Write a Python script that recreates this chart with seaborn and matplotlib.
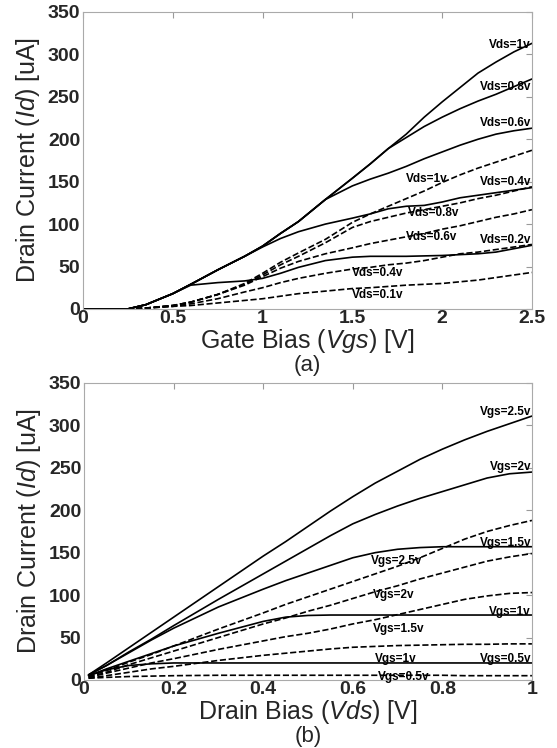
import matplotlib
matplotlib.use("Agg")
import matplotlib.pyplot as plt
import seaborn as sns

# ---- (a) Id vs Vgs, one curve per Vds ----
vgs = [0, 0.25, 0.35, 0.5, 0.6, 0.75, 0.9, 1.0, 1.1, 1.2, 1.35, 1.5,
       1.6, 1.7, 1.8, 1.9, 2.0, 2.1, 2.2, 2.3, 2.4, 2.5]

# solid curves
a_solid_1 = [0, 0, 5, 18, 29, 46, 62, 74, 89, 103, 129, 154,
             171, 189, 206, 226, 244, 261, 278, 291, 303, 313]
a_solid_08 = [0, 0, 5, 18, 29, 46, 62, 74, 89, 103, 129, 154,
              171, 189, 202, 215, 226, 236, 245, 253, 262, 271]
a_solid_06 = [0, 0, 5, 18, 29, 46, 62, 74, 89, 103, 129, 145,
              153, 160, 168, 177, 185, 193, 200, 206, 210, 213]
a_solid_04 = [0, 0, 5, 18, 29, 46, 62, 73, 83, 91, 100, 107,
              112, 118, 121, 122, 126, 131, 134, 137, 140, 143]
a_solid_02 = [0, 0, 5, 18, 28, 31, 33, 36, 42, 49, 57, 61,
              62, 62, 62, 62.5, 63, 64, 65, 67, 71, 75]

# dashed curves
a_dash_1 = [0, 0, 1, 4, 8, 17, 30, 42, 55, 66, 82, 102,
            112, 121, 130, 139, 149, 158, 166, 173, 180, 187]
a_dash_08 = [0, 0, 1, 4, 8, 17, 29, 40, 52, 62, 78, 96,
             103, 108, 113, 117, 121, 125, 130, 134, 139, 144]
a_dash_06 = [0, 0, 1, 4, 8, 17, 28, 38, 48, 56, 65, 72,
             77, 81, 85, 89, 94, 98, 103, 108, 112, 117]
a_dash_04 = [0, 0, 1, 3, 6, 12, 20, 25, 31, 36, 42, 47,
             49, 52, 54, 57, 61, 65, 67, 70, 73, 76]
a_dash_01 = [0, 0, 1, 3, 4, 7, 10, 12, 15, 18, 21, 24,
             25, 26.5, 28, 29, 30, 32, 34, 37, 40, 43]

a_solid_names = ["Vds=1v", "Vds=0.8v", "Vds=0.6v", "Vds=0.4v", "Vds=0.2v"]
a_dash_names = ["Vds=1v", "Vds=0.8v", "Vds=0.6v", "Vds=0.4v", "Vds=0.1v"]

# ---- (b) Id vs Vds, one curve per Vgs ----
vds = [0.01, 0.05, 0.1, 0.15, 0.2, 0.3, 0.4, 0.45, 0.5, 0.55, 0.6,
       0.65, 0.7, 0.75, 0.8, 0.85, 0.9, 0.95, 1.0]

b_solid_25 = [6, 20, 38, 56, 74, 110, 146, 163, 181, 199, 216,
              232, 246, 260, 272, 283, 293, 302, 311]
b_solid_2 = [6, 17, 33, 48, 64, 95, 125, 140, 155, 170, 184,
             195, 205, 214, 222, 230, 238, 243, 245]
b_solid_15 = [6, 17, 32, 47, 61, 86, 107, 117, 126, 135, 144,
              150, 154, 156, 157, 157, 157, 157, 157]
b_solid_1 = [5, 13, 22, 31, 40, 55, 69, 74, 76, 76.5, 76.5,
             76.5, 76.5, 76.5, 76.5, 76.5, 76.5, 76.5, 76.5]
b_solid_05 = [5, 12, 17, 19, 20, 20, 20, 20, 20, 20, 20,
              20, 20, 20, 20, 20, 20, 20, 20]

b_dash_25 = [4, 11, 21, 30, 40, 60, 79, 89, 98, 107, 116,
             125, 134, 144, 155, 166, 175, 182, 188]
b_dash_2 = [3, 9, 18, 26, 34, 50, 66, 73, 81, 88, 96,
            104, 111, 119, 126, 133, 140, 145, 149]
b_dash_15 = [3, 8, 14, 20, 25, 36, 46, 51, 55, 60, 66,
             71, 77, 83, 89, 95, 99, 102, 103]
b_dash_1 = [2, 5, 9, 13, 16, 23, 29, 31.5, 34, 36.5, 38.5,
            39.5, 40.5, 41, 41.5, 42, 42, 42.5, 42.5]
b_dash_05 = [2, 3, 4, 4.5, 5, 5.5, 5.5, 5.5, 5.5, 5.5, 5.5,
             5.5, 5.5, 5.5, 5.5, 5, 5, 5, 5]

b_solid_names = ["Vgs=2.5v", "Vgs=2v", "Vgs=1.5v", "Vgs=1v", "Vgs=0.5v"]
b_dash_names = ["Vgs=2.5v", "Vgs=2v", "Vgs=1.5v", "Vgs=1v", "Vgs=0.5v"]

a_xticks = [0, 0.5, 1, 1.5, 2, 2.5]
a_xticklabels = ["0", "0.5", "1", "1.5", "2", "2.5"]
b_xticks = [0, 0.2, 0.4, 0.6, 0.8, 1]
b_xticklabels = ["0", "0.2", "0.4", "0.6", "0.8", "1"]
yticks = [0, 50, 100, 150, 200, 250, 300, 350]

sns.set_theme(style="white")
plt.rcParams["font.family"] = ["Liberation Sans", "DejaVu Sans"]
plt.rcParams["mathtext.fontset"] = "custom"
plt.rcParams["mathtext.it"] = "Liberation Sans:italic"
plt.rcParams["mathtext.rm"] = "Liberation Sans"

LABEL_KW = dict(fontsize=8.5, fontweight="bold", color="black")


def draw_curves(ax, x, curves, style):
    for y in curves:
        sns.lineplot(x=x, y=y, ax=ax, color="black", linewidth=1.2,
                     linestyle=style)


def style_axes(ax, xmax, xticks, xticklabels, xlabel, tag):
    ax.set_xlim(0, xmax)
    ax.set_ylim(0, 350)
    ax.set_xticks(xticks)
    ax.set_xticklabels(xticklabels)
    ax.set_yticks(yticks)
    ax.set_yticklabels([str(t) for t in yticks])
    ax.tick_params(direction="in", length=4, width=0.8, color="#9a9a9a",
                   top=True, right=True, labelsize=14, pad=2)
    ax.tick_params(axis="x", pad=1)
    for lab in ax.get_xticklabels() + ax.get_yticklabels():
        lab.set_fontweight("bold")
    for sp in ax.spines.values():
        sp.set_color("#aaaaaa")
        sp.set_linewidth(0.8)
    ax.set_ylabel("Drain Current ($\\mathit{Id}$) [uA]", fontsize=18,
                  labelpad=4)
    ax.set_xlabel(xlabel, fontsize=18, labelpad=0)
    ax.annotate(tag, xy=(0.5, 0), xycoords="axes fraction",
                xytext=(0, -33), textcoords="offset points",
                ha="center", va="top", fontsize=16)


fig = plt.figure(figsize=(5.57, 7.48), dpi=100)
ax1 = fig.add_axes([0.149, 0.587, 0.806, 0.397])
ax2 = fig.add_axes([0.151, 0.091, 0.804, 0.397])

# panel (a)
draw_curves(ax1, vgs, [a_solid_1, a_solid_08, a_solid_06, a_solid_04,
                       a_solid_02], "-")
draw_curves(ax1, vgs, [a_dash_1, a_dash_08, a_dash_06, a_dash_04,
                       a_dash_01], "--")
a_solid_lab_y = [311, 262, 219, 150, 81]
for name, yy in zip(a_solid_names, a_solid_lab_y):
    ax1.text(2.495, yy, name, ha="right", va="center", **LABEL_KW)
a_dash_lab_xy = [(1.80, 153), (1.81, 113), (1.80, 85), (1.50, 42), (1.50, 16.5)]
for name, (xx, yy) in zip(a_dash_names, a_dash_lab_xy):
    ax1.text(xx, yy, name, ha="left", va="center", **LABEL_KW)
style_axes(ax1, 2.5, a_xticks, a_xticklabels,
           "Gate Bias ($\\mathit{Vgs}$) [V]", "(a)")

# panel (b)
draw_curves(ax2, vds, [b_solid_25, b_solid_2, b_solid_15, b_solid_1,
                       b_solid_05], "-")
draw_curves(ax2, vds, [b_dash_25, b_dash_2, b_dash_15, b_dash_1,
                       b_dash_05], "--")
b_solid_lab_y = [316, 251, 161, 80, 25]
for name, yy in zip(b_solid_names, b_solid_lab_y):
    ax2.text(0.998, yy, name, ha="right", va="center", **LABEL_KW)
b_dash_lab_xy = [(0.64, 140), (0.645, 100), (0.645, 60), (0.65, 25), (0.655, 3.5)]
for name, (xx, yy) in zip(b_dash_names, b_dash_lab_xy):
    ax2.text(xx, yy, name, ha="left", va="center", **LABEL_KW)
style_axes(ax2, 1.0, b_xticks, b_xticklabels,
           "Drain Bias ($\\mathit{Vds}$) [V]", "(b)")

fig.savefig("out.png", dpi=100)
